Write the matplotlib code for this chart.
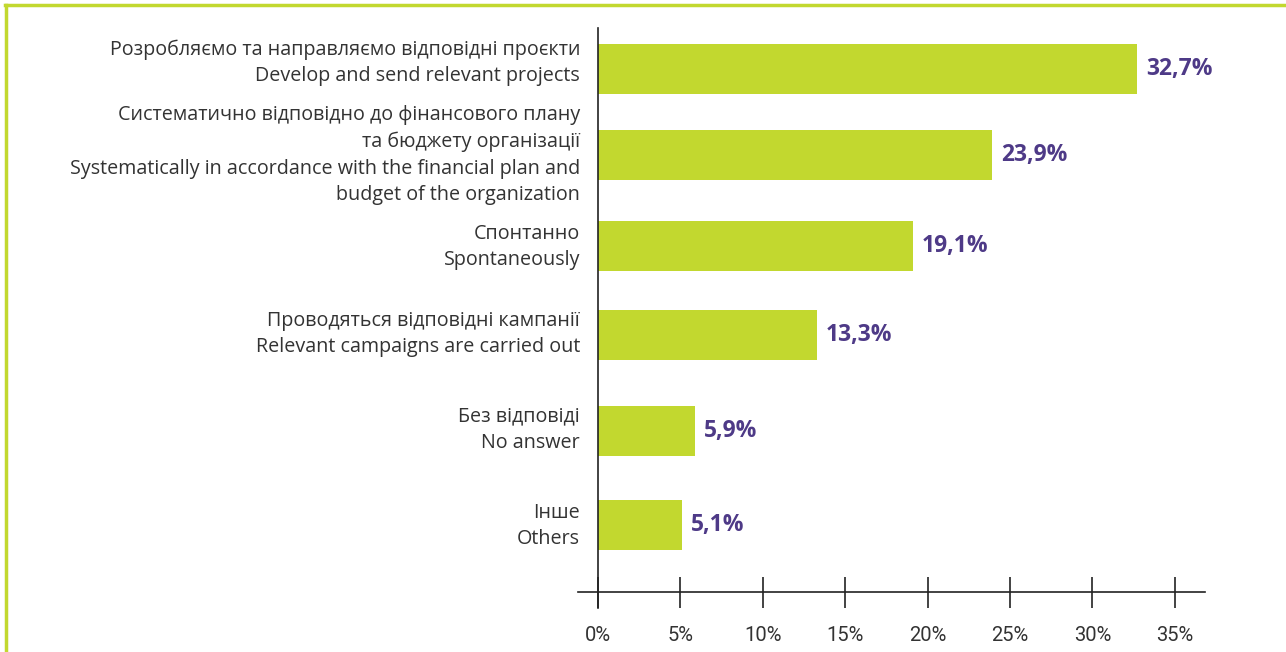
import matplotlib
matplotlib.use("Agg")
import matplotlib.pyplot as plt
from matplotlib.lines import Line2D

categories = [
    "Розробляємо та направляємо відповідні проєкти\nDevelop and send relevant projects",
    "Систематично відповідно до фінансового плану\nта бюджету організації\nSystematically in accordance with the financial plan and\nbudget of the organization",
    "Спонтанно\nSpontaneously",
    "Проводяться відповідні кампанії\nRelevant campaigns are carried out",
    "Без відповіді\nNo answer",
    "Інше\nOthers",
]
values = [32.7, 23.9, 19.1, 13.3, 5.9, 5.1]
value_labels = ["32,7%", "23,9%", "19,1%", "13,3%", "5,9%", "5,1%"]
xticks = [0, 5, 10, 15, 20, 25, 30, 35]
xtick_labels = ["0%", "5%", "10%", "15%", "20%", "25%", "30%", "35%"]

# layout (pixel centers of bars and their labels, from the top of the figure)
bar_centers_px = [69, 155, 246, 335, 431, 525]
label_centers_px = [63, 155, 247, 334, 430, 526]

W, H = 1286, 652
fig = plt.figure(figsize=(W / 100, H / 100), dpi=100)

GREEN = "#c2d82f"
PURPLE = "#4e3a87"
GREY = "#333333"

# axes spanning x 578..1205 px, y 28..608 px
ax_left, ax_right = 578, 1205
ax_top, ax_bottom = 28, 608
ax = fig.add_axes([ax_left / W, 1 - ax_bottom / H, (ax_right - ax_left) / W, (ax_bottom - ax_top) / H])
px_per_unit = 82.4 / 5
x0 = 598
ax.set_xlim((ax_left - x0) / px_per_unit, (ax_right - x0) / px_per_unit)
ax.set_ylim(ax_bottom, ax_top)

ax.barh(bar_centers_px, values, height=50, color=GREEN, zorder=2)
for yc, v, lab in zip(bar_centers_px, values, value_labels):
    ax.text(v + 9 / px_per_unit, yc, lab, va="center", ha="left", color=PURPLE,
            fontsize=16.5, fontweight="bold", family=["Open Sans", "DejaVu Sans"])
for yc, cat in zip(label_centers_px, categories):
    ax.text((580 - x0) / px_per_unit, yc, cat, va="center", ha="right", color=GREY,
            fontsize=14.2, linespacing=1.43, family=["Open Sans", "DejaVu Sans"])

for s in ["top", "right"]:
    ax.spines[s].set_visible(False)
ax.spines["left"].set_position(("data", 0))
ax.spines["bottom"].set_position(("data", 592))
for s in ["left", "bottom"]:
    ax.spines[s].set_color("#222222")
    ax.spines[s].set_linewidth(1.2)
ax.set_yticks([])
ax.set_xticks(xticks)
ax.set_xticklabels(xtick_labels, family=["Roboto", "DejaVu Sans"], fontsize=14.5, color=GREY)
ax.tick_params(axis="x", direction="inout", length=31 * 0.72, width=1.2, color="#222222", pad=13)
ax.patch.set_alpha(0)

# green frame lines
fig.add_artist(Line2D([5 / W, 1], [1 - 5 / H, 1 - 5 / H], color=GREEN, lw=2.5, transform=fig.transFigure))
fig.add_artist(Line2D([6 / W, 6 / W], [0, 1 - 5 / H], color=GREEN, lw=2.5, transform=fig.transFigure))

fig.savefig("out.png", dpi=100)
